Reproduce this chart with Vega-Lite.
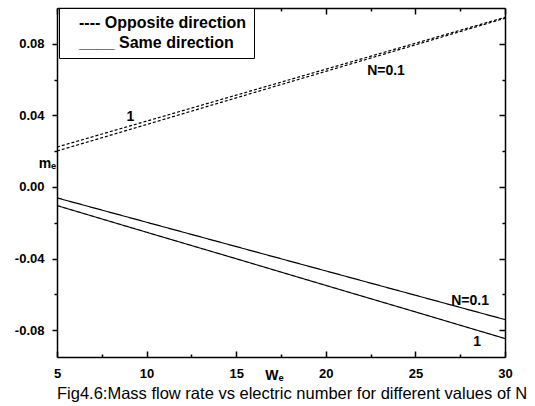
{
  "$schema": "https://vega.github.io/schema/vega-lite/v6.json",
  "width": 448,
  "height": 349,
  "autosize": {"type": "none"},
  "padding": {"left": 57, "top": 8, "right": 30, "bottom": 49},
  "background": "white",
  "config": {
    "view": {"stroke": null},
    "font": "Liberation Sans",
    "axis": {
      "domainColor": "black",
      "tickColor": "black",
      "domainWidth": 1.5,
      "tickWidth": 1.5,
      "grid": false,
      "labelColor": "black",
      "labelFont": "Liberation Sans",
      "labelFontSize": 13,
      "labelFontWeight": "bold",
      "titleColor": "black",
      "titleFont": "Liberation Sans"
    }
  },
  "title": {
    "text": "Fig4.6:Mass flow rate vs electric number for different values of N",
    "orient": "bottom",
    "anchor": "start",
    "frame": "group",
    "fontSize": 16.5,
    "fontWeight": "normal",
    "font": "Liberation Sans",
    "color": "black",
    "offset": 4
  },
  "data": {
    "values": [
      {"W": 5, "m": 0.0223, "N": "1", "dir": "Opposite direction"},
      {"W": 10, "m": 0.0368, "N": "1", "dir": "Opposite direction"},
      {"W": 15, "m": 0.0513, "N": "1", "dir": "Opposite direction"},
      {"W": 20, "m": 0.0658, "N": "1", "dir": "Opposite direction"},
      {"W": 25, "m": 0.0803, "N": "1", "dir": "Opposite direction"},
      {"W": 30, "m": 0.0948, "N": "1", "dir": "Opposite direction"},
      {"W": 5, "m": 0.0201, "N": "0.1", "dir": "Opposite direction"},
      {"W": 10, "m": 0.0349, "N": "0.1", "dir": "Opposite direction"},
      {"W": 15, "m": 0.0498, "N": "0.1", "dir": "Opposite direction"},
      {"W": 20, "m": 0.0646, "N": "0.1", "dir": "Opposite direction"},
      {"W": 25, "m": 0.0794, "N": "0.1", "dir": "Opposite direction"},
      {"W": 30, "m": 0.0943, "N": "0.1", "dir": "Opposite direction"},
      {"W": 5, "m": -0.0061, "N": "0.1", "dir": "Same direction"},
      {"W": 10, "m": -0.0197, "N": "0.1", "dir": "Same direction"},
      {"W": 15, "m": -0.0333, "N": "0.1", "dir": "Same direction"},
      {"W": 20, "m": -0.0469, "N": "0.1", "dir": "Same direction"},
      {"W": 25, "m": -0.0605, "N": "0.1", "dir": "Same direction"},
      {"W": 30, "m": -0.0741, "N": "0.1", "dir": "Same direction"},
      {"W": 5, "m": -0.0104, "N": "1", "dir": "Same direction"},
      {"W": 10, "m": -0.0253, "N": "1", "dir": "Same direction"},
      {"W": 15, "m": -0.0401, "N": "1", "dir": "Same direction"},
      {"W": 20, "m": -0.055, "N": "1", "dir": "Same direction"},
      {"W": 25, "m": -0.0698, "N": "1", "dir": "Same direction"},
      {"W": 30, "m": -0.0847, "N": "1", "dir": "Same direction"}
    ]
  },
  "layer": [
    {
      "mark": {"type": "line", "color": "black", "strokeWidth": 1.2},
      "encoding": {
        "x": {
          "field": "W", "type": "quantitative",
          "scale": {"domain": [5, 30], "nice": false, "zero": false},
          "axis": {
            "orient": "bottom", "values": [5, 10, 15, 20, 25, 30],
            "tickSize": -6, "labelPadding": 16, "labelFlush": false,
            "title": "Wₑ", "titleFontSize": 14, "titleFontWeight": "bold",
            "titleX": 217, "titleY": 22, "titleBaseline": "alphabetic", "titleAlign": "center"
          }
        },
        "y": {
          "field": "m", "type": "quantitative",
          "scale": {"domain": [-0.095, 0.1], "nice": false, "zero": false},
          "axis": {
            "orient": "left", "values": [-0.08, -0.04, 0, 0.04, 0.08],
            "labelExpr": "datum.value < 0 ? '-' + format(-datum.value, '.2f') : format(datum.value, '.2f')",
            "tickSize": 5, "labelPadding": 8, "labelFlush": false,
            "title": "mₑ", "titleAngle": 0, "titleX": -10, "titleY": 159,
            "titleBaseline": "alphabetic", "titleAlign": "center",
            "titleFontSize": 14, "titleFontWeight": "bold"
          }
        },
        "strokeDash": {
          "field": "dir", "type": "nominal",
          "scale": {"domain": ["Opposite direction", "Same direction"], "range": [[3, 2], [1, 0]]},
          "legend": {
            "orient": "none", "legendX": 2, "legendY": 0, "title": null,
            "padding": 7, "strokeColor": "black", "fillColor": "white",
            "symbolSize": 0, "symbolOpacity": 0, "symbolStrokeWidth": 0,
            "labelOffset": -3, "labelLimit": 400, "rowPadding": 4,
            "labelFont": "Liberation Sans", "labelFontSize": 16, "labelFontWeight": "bold", "labelColor": "black",
            "labelExpr": "datum.label == 'Opposite direction' ? '---- Opposite direction' : '____ Same direction'"
          }
        },
        "detail": {"field": "N"}
      }
    },
    {
      "mark": {"type": "point", "opacity": 0},
      "encoding": {
        "x": {
          "field": "W", "type": "quantitative",
          "scale": {"domain": [5, 30], "nice": false, "zero": false},
          "axis": {"orient": "top", "values": [5, 10, 15, 20, 25, 30], "tickSize": -6, "labels": false, "title": null}
        },
        "y": {
          "field": "m", "type": "quantitative",
          "scale": {"domain": [-0.095, 0.1], "nice": false, "zero": false},
          "axis": {"orient": "right", "values": [-0.08, -0.04, 0, 0.04, 0.08], "tickSize": -6, "labels": false, "title": null}
        }
      }
    },
    {
      "mark": {"type": "point", "opacity": 0},
      "encoding": {
        "x": {
          "field": "W", "type": "quantitative",
          "scale": {"domain": [5, 30], "nice": false, "zero": false},
          "axis": {"orient": "bottom", "values": [7.5, 12.5, 17.5, 22.5, 27.5], "tickSize": -3, "labels": false, "domain": false, "title": null}
        },
        "y": {
          "field": "m", "type": "quantitative",
          "scale": {"domain": [-0.095, 0.1], "nice": false, "zero": false},
          "axis": {"orient": "left", "values": [-0.06, -0.02, 0.02, 0.06], "tickSize": 3, "labels": false, "domain": false, "title": null}
        }
      }
    },
    {
      "mark": {"type": "point", "opacity": 0},
      "encoding": {
        "x": {
          "field": "W", "type": "quantitative",
          "scale": {"domain": [5, 30], "nice": false, "zero": false},
          "axis": {"orient": "top", "values": [7.5, 12.5, 17.5, 22.5, 27.5], "tickSize": -3, "labels": false, "domain": false, "title": null}
        },
        "y": {
          "field": "m", "type": "quantitative",
          "scale": {"domain": [-0.095, 0.1], "nice": false, "zero": false},
          "axis": {"orient": "right", "values": [-0.06, -0.02, 0.02, 0.06], "tickSize": -3, "labels": false, "domain": false, "title": null}
        }
      }
    },
    {
      "data": {
        "values": [
          {"label": "1", "W": 9.1, "m": 0.039},
          {"label": "N=0.1", "W": 23.36, "m": 0.0648},
          {"label": "N=0.1", "W": 28.05, "m": -0.0637},
          {"label": "1", "W": 28.44, "m": -0.0866}
        ]
      },
      "mark": {"type": "text", "font": "Liberation Sans", "fontSize": 14, "fontWeight": "bold", "color": "black", "align": "center", "baseline": "middle"},
      "encoding": {
        "x": {"field": "W", "type": "quantitative", "scale": {"domain": [5, 30], "nice": false, "zero": false}, "axis": null},
        "y": {"field": "m", "type": "quantitative", "scale": {"domain": [-0.095, 0.1], "nice": false, "zero": false}, "axis": null},
        "text": {"field": "label"}
      }
    }
  ],
  "resolve": {"axis": {"x": "independent", "y": "independent"}}
}
